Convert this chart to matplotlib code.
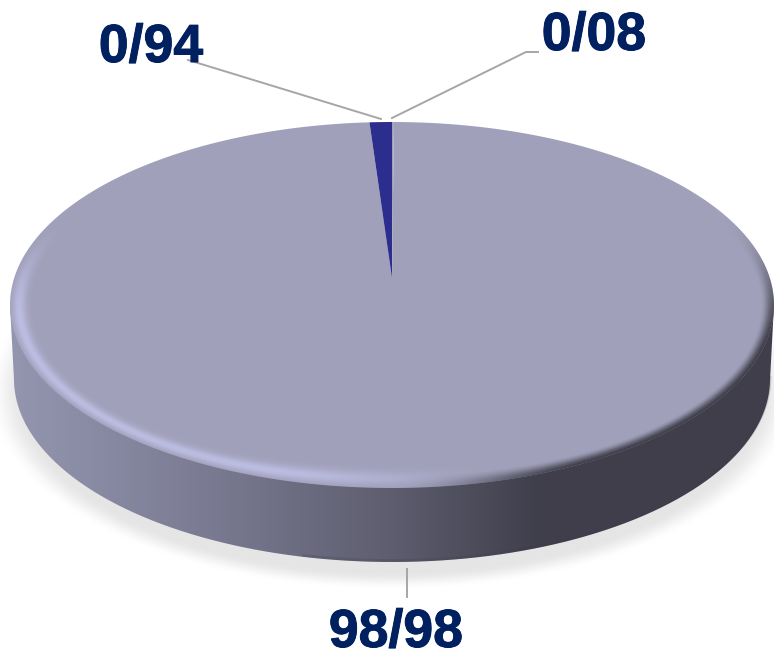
import numpy as np
import matplotlib
matplotlib.use("Agg")
import matplotlib.pyplot as plt
import matplotlib.patheffects as pe
from matplotlib.colors import LinearSegmentedColormap
from matplotlib.patches import PathPatch
from matplotlib.path import Path

# slices, going anticlockwise from 12 o'clock
labels = ["0/94", "98/98", "0/08"]
values = [0.94, 98.98, 0.08]
slice_colors = ["#2c2e8e", "#a0a0ba", "#a0a0ba"]

W, H = 774, 658
CX, CY, RX, RY = 392, 305, 382, 183   # top face
APEX_Y = 278                          # pie centre as drawn, tilted up from CY
DEPTH = 74
BOT_RX = 378
LABEL_COLOR = "#002060"
LINE_COLOR = "#a6a6a6"


def smooth(a, lo, hi):
    t = np.clip((a - lo) / (hi - lo), 0, 1)
    return t * t * (3 - 2 * t)


def arc(a0, a1, n=400):
    # a0, a1 in degrees anticlockwise from the top
    t = np.radians(np.linspace(a0, a1, n))
    return CX - RX * np.sin(t), CY - RY * np.cos(t)


fig = plt.figure(figsize=(W / 100, H / 100), dpi=100)
ax = fig.add_axes([0, 0, 1, 1])
ax.set_xlim(0, W)
ax.set_ylim(H, 0)
ax.axis("off")

yy, xx = np.mgrid[0:H, 0:W] + 0.5

# soft floor shadow
sr = np.sqrt(((xx - CX) / 392) ** 2 + ((yy - 392) / 192) ** 2)
shadow = np.zeros((H, W, 4))
shadow[..., :3] = 0.8
shadow[..., 3] = 0.5 * (1 - smooth(sr, 0.94, 1.03))
ax.imshow(shadow, extent=(0, W, H, 0), aspect="auto", zorder=1)

# side wall with horizontal gradient
wall_cmap = LinearSegmentedColormap.from_list(
    "wall",
    [(0.0, "#9596b0"), (0.25, "#7c7d95"), (0.5, "#5f5e70"),
     (0.7, "#3f3e4b"), (1.0, "#3f3e4a")],
)
t = np.linspace(np.pi, 0, 300)
top_x = CX + RX * np.cos(t)
top_y = np.full_like(t, CY)
bot_x = CX + BOT_RX * np.cos(t[::-1])
bot_y = CY + DEPTH + RY * np.sin(t[::-1])
verts = np.column_stack([np.r_[top_x, bot_x], np.r_[top_y, bot_y]])
clip = PathPatch(Path(np.vstack([verts, verts[0]])), fc="none", ec="none", zorder=2)
ax.add_patch(clip)
im = ax.imshow(np.linspace(0, 1, W)[None, :], extent=(0, W, H, 0), aspect="auto",
               cmap=wall_cmap, zorder=2)
im.set_clip_path(clip)

# slightly darker lip along the bottom of the wall, front only
front = bot_x > 300
ax.plot(bot_x[front], bot_y[front] - 1.5, color="#3a3946", lw=2, alpha=0.2, zorder=2.5)

# top face slices, drawn from the values
angles = np.r_[0, np.cumsum(values)] * 3.6
for a0, a1, c in zip(angles[:-1], angles[1:], slice_colors):
    ax_, ay_ = arc(a0, a1)
    ax.fill(np.r_[CX, ax_], np.r_[APEX_Y, ay_], color=c, lw=0,
            zorder=4 if c == slice_colors[0] else 3)

# bevel shading round the front of the top face
dx, dy = xx - CX, yy - CY
r = np.sqrt((dx / RX) ** 2 + (dy / RY) ** 2)
d = (1 - r) * np.sqrt(dx ** 2 + dy ** 2)
edge = np.clip(d + 0.5, 0, 1) * (r > 0.7)

light = np.exp(-((d - 9) / 6.5) ** 2) * (1 - smooth(xx, 260, 520)) * smooth(yy, 215, 320)
bevel = np.zeros((H, W, 4))
bevel[..., :3] = np.array([0xc0, 0xc2, 0xe8]) / 255
bevel[..., 3] = 0.85 * light * edge
ax.imshow(bevel, extent=(0, W, H, 0), aspect="auto", zorder=5)

dark = (1 - smooth(d, 0, 13)) * smooth(xx, 390, 590) * smooth(yy, 215, 350)
shade = np.zeros((H, W, 4))
shade[..., :3] = np.array([0x3f, 0x3e, 0x4a]) / 255
shade[..., 3] = dark * edge
ax.imshow(shade, extent=(0, W, H, 0), aspect="auto", zorder=6)

# leader lines
ax.plot([188, 381], [60, 119], color=LINE_COLOR, lw=1.4, zorder=7)
ax.plot([392, 526, 538], [118, 52, 52], color=LINE_COLOR, lw=1.4, zorder=7)
ax.plot([406.5, 406.5], [569, 597], color=LINE_COLOR, lw=1.4, zorder=7)

# labels
label_pos = [(151, 48), (396, 633), (594, 36)]
for txt, (lx, ly) in zip(labels, label_pos):
    ax.text(lx, ly, txt, color=LABEL_COLOR, fontsize=38.6, fontweight="bold",
            family="Liberation Sans", ha="center", va="center", zorder=8,
            path_effects=[pe.withStroke(linewidth=0.7, foreground=LABEL_COLOR)])

ax.set_xlim(0, W)
ax.set_ylim(H, 0)
fig.savefig("out.png", dpi=100)
